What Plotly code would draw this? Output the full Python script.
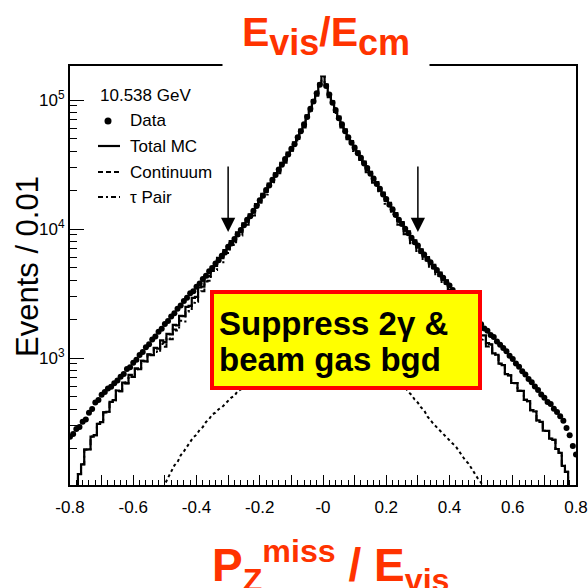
import plotly.graph_objects as go

# ---- histogram contents (bin width 0.01, centres -0.80 ... 0.80) ----
bin_centers = [round(-0.80 + 0.01 * i, 2) for i in range(161)]

data_counts = [
    245, 258, 281, 292, 321, 334, 376, 402, 451, 472,
    519, 544, 580, 598, 638, 669, 716, 752, 820, 846,
    918, 970, 1055, 1113, 1210, 1279, 1391, 1468, 1597, 1686,
    1833, 1938, 2102, 2226, 2413, 2556, 2770, 2934, 3180, 3295,
    3567, 3781, 4096, 4342, 4701, 4985, 5398, 5725, 6198, 6574,
    7280, 7725, 8360, 9075, 9820, 10670, 11810, 12530, 13870, 15070,
    16680, 18110, 20050, 21770, 24110, 26170, 28980, 31470, 34840, 37830,
    41900, 45480, 51540, 57250, 64890, 73760, 85530, 97230, 112700, 131100,
    158500,
    128200, 110100, 95020, 83590, 72080, 64890, 57250, 51540, 46540, 42870,
    38700, 35660, 32200, 29660, 26790, 24670, 22280, 20520, 18530, 17060,
    15410, 14200, 12820, 11810, 10910, 10050, 9287, 8553, 7903, 7450,
    6727, 6341, 5859, 5522, 5103, 4810, 4445, 4190, 3871, 3649,
    3371, 3178, 2936, 2768, 2557, 2411, 2228, 2099, 1940, 1829,
    1690, 1630, 1506, 1452, 1342, 1265, 1196, 1128, 1042, 982,
    907, 855, 790, 745, 688, 649, 600, 565, 522, 492,
    455, 439, 405, 382, 353, 326, 287, 252, 208, 179,
]

total_mc = [
    68, 93, 101, 126, 150, 195, 196, 246, 252, 309,
    318, 379, 383, 457, 471, 560, 553, 645, 636, 739,
    714, 828, 818, 951, 940, 1066, 1054, 1196, 1183, 1372,
    1329, 1540, 1526, 1808, 1793, 2124, 2108, 2494, 2534, 2929,
    2978, 3521, 3580, 4232, 4305, 5085, 5177, 5970, 5948, 6850,
    6990, 8040, 8030, 9440, 9480, 11050, 11400, 12970, 13390, 15590,
    16110, 18740, 19360, 22520, 23290, 27060, 28000, 32510, 33680, 39060,
    40520, 46920, 49840, 59030, 62780, 75920, 82870, 99830, 109600, 133900,
    155600,
    131400, 107000, 97600, 81000, 74300, 62800, 59100, 49800, 48100, 41400,
    40000, 34400, 33300, 28600, 27700, 23800, 23050, 19800, 19180, 16480,
    15950, 13710, 13270, 11400, 11290, 9700, 9610, 8260, 8180, 7190,
    6960, 6120, 6060, 5330, 5280, 4640, 4600, 4040, 4000, 3360,
    3260, 2860, 2780, 2430, 2370, 2070, 2020, 1760, 1720, 1500,
    1497, 1306, 1275, 1086, 1060, 903, 882, 751, 734, 640,
    639, 557, 556, 474, 463, 394, 385, 328, 320, 273,
    272, 237, 232, 197, 184, 146, 131, 97, 82, 61,
]

continuum = [
    0, 0, 0, 0, 0, 0, 0, 0, 0, 0,
    0, 0, 0, 0, 0, 0, 0, 0, 0, 0,
    0, 0, 0, 0, 0, 0, 0, 0, 71, 89,
    105, 118, 130, 147, 156, 176, 189, 206, 221, 243,
    254, 278, 292, 319, 336, 366, 377, 401, 414, 440,
    464, 494, 509, 554, 571, 607, 627, 665, 688, 729,
    754, 799, 827, 877, 906, 961, 994, 1054, 1089, 1156,
    1194, 1268, 1310, 1389, 1436, 1524, 1575, 1671, 1727, 1832,
    1905,
    1808, 1750, 1650, 1596, 1504, 1455, 1371, 1327, 1251, 1210,
    1141, 1103, 1040, 1007, 949, 918, 866, 838, 789, 764,
    719, 697, 657, 635, 613, 593, 546, 517, 476, 450,
    414, 392, 353, 326, 307, 290, 273, 259, 243, 231,
    217, 206, 190, 175, 161, 152, 137, 127, 116, 108,
    92, 76, 0, 0, 0, 0, 0, 0, 0, 0,
    0, 0, 0, 0, 0, 0, 0, 0, 0, 0,
    0, 0, 0, 0, 0, 0, 0, 0, 0, 0,
]

tau_pair = [
    68, 93, 101, 126, 150, 195, 196, 246, 252, 309,
    318, 379, 383, 457, 471, 560, 553, 645, 636, 739,
    714, 828, 818, 951, 940, 1066, 1054, 1196, 1112, 1283,
    1224, 1422, 1396, 1661, 1637, 1948, 1919, 2288, 2313, 2686,
    2724, 3243, 3288, 3913, 3969, 4719, 4800, 5569, 5534, 6410,
    6526, 7546, 7521, 8886, 8909, 10443, 10773, 12305, 12702, 14861,
    15356, 17941, 18533, 21643, 22384, 26099, 27006, 31456, 32591, 37904,
    39326, 45652, 48530, 57641, 61344, 74396, 81295, 98159, 107873, 132068,
    153695,
    129592, 105250, 95950, 79404, 72796, 61345, 57729, 48473, 46849, 40190,
    38859, 33297, 32260, 27593, 26751, 22882, 22184, 18962, 18391, 15716,
    15231, 13013, 12613, 10765, 10677, 9107, 9064, 7743, 7704, 6740,
    6546, 5728, 5707, 5004, 4973, 4350, 4327, 3781, 3757, 3129,
    3043, 2654, 2590, 2255, 2209, 1918, 1883, 1633, 1604, 1392,
    1405, 1230, 1275, 1086, 1060, 903, 882, 751, 734, 640,
    639, 557, 556, 474, 463, 394, 385, 328, 320, 273,
    272, 237, 232, 197, 184, 146, 131, 97, 82, 61,
]

for series in (data_counts, total_mc, continuum, tau_pair):
    assert len(series) == len(bin_centers)

# ---- axis ticks ----
x_tick_vals = [-0.8, -0.7, -0.6, -0.5, -0.4, -0.3, -0.2, -0.1, 0.0,
               0.1, 0.2, 0.3, 0.4, 0.5, 0.6, 0.7, 0.8]
x_tick_text = ["-0.8", "", "-0.6", "", "-0.4", "", "-0.2", "", "-0",
               "", "0.2", "", "0.4", "", "0.6", "", "0.8"]
y_tick_vals = [1e3, 1e4, 1e5]
y_tick_text = ["10<sup>3</sup>", "10<sup>4</sup>", "10<sup>5</sup>"]
y_minor_vals = [200, 300, 400, 500, 600, 700, 800, 900,
                2000, 3000, 4000, 5000, 6000, 7000, 8000, 9000,
                20000, 30000, 40000, 50000, 60000, 70000, 80000, 90000]
y_log_range = [2.0155, 5.2636]

cut_positions = [-0.3, 0.3]
energy_label = "10.538 GeV"
legend_labels = ["Data", "Total MC", "Continuum", "τ Pair"]

# ---- page geometry (pixels) ----
W = H = 588
ML, MR, MT, MB = 70, 12, 66, 103
PW, PH = W - ML - MR, H - MT - MB


def fx(px):
    return (px - ML) / PW


def fy(py):
    return (H - MB - py) / PH


SANS = "Liberation Sans, Arial, Helvetica, sans-serif"
RED_TEXT = "#ff3300"

fig = go.Figure()

fig.add_trace(go.Scatter(
    x=bin_centers, y=tau_pair, mode="lines", line_shape="hvh",
    line=dict(color="black", width=2, dash="6px,3px,2px,3px"),
    showlegend=False, hoverinfo="skip"))
fig.add_trace(go.Scatter(
    x=bin_centers, y=continuum, mode="lines",
    line=dict(color="black", width=2, dash="3px,3px"),
    showlegend=False, hoverinfo="skip"))
fig.add_trace(go.Scatter(
    x=bin_centers, y=total_mc, mode="lines", line_shape="hvh",
    line=dict(color="black", width=2.2),
    showlegend=False, hoverinfo="skip"))
fig.add_trace(go.Scatter(
    x=bin_centers, y=data_counts, mode="markers",
    marker=dict(color="black", size=6, symbol="circle"),
    showlegend=False, hoverinfo="skip"))

shapes = []
annotations = []

# legend block
annotations.append(dict(x=fx(98), y=fy(95), xref="paper", yref="paper",
                        text=energy_label, showarrow=False, xanchor="left",
                        yanchor="middle", font=dict(family=SANS, size=17, color="black")))
legend_rows = [121, 146, 172, 197]
for label, row in zip(legend_labels, legend_rows):
    annotations.append(dict(x=fx(128), y=fy(row), xref="paper", yref="paper",
                            text=label, showarrow=False, xanchor="left",
                            yanchor="middle",
                            font=dict(family=SANS, size=17, color="black")))
shapes.append(dict(type="circle", xref="paper", yref="paper",
                   x0=fx(104.5), x1=fx(111.5), y0=fy(legend_rows[0] + 3.5),
                   y1=fy(legend_rows[0] - 3.5), fillcolor="black",
                   line=dict(width=0)))
for row, dash in zip(legend_rows[1:], ["solid", "5px,3px", "5px,3px,2px,3px"]):
    shapes.append(dict(type="line", xref="paper", yref="paper",
                       x0=fx(98), x1=fx(120), y0=fy(row), y1=fy(row),
                       line=dict(color="black", width=2.2, dash=dash)))

# selection cut arrows
for xc in cut_positions:
    annotations.append(dict(x=xc, y=fy(232), xref="x", yref="paper",
                            ax=0, ay=-67, text="", showarrow=True,
                            arrowhead=2, arrowsize=1.9, arrowwidth=1.5,
                            arrowcolor="black", standoff=0))

# highlighted note box
shapes.append(dict(type="rect", xref="paper", yref="paper", layer="above",
                   x0=fx(212), x1=fx(480), y0=fy(388), y1=fy(292),
                   fillcolor="#ffff00", line=dict(color="#ff0000", width=4)))
annotations.append(dict(x=fx(217), y=fy(323), xref="paper", yref="paper",
                        text="<b>Suppress 2γ &amp;</b>", showarrow=False,
                        xanchor="left", yanchor="middle",
                        font=dict(family=SANS, size=33, color="black")))
annotations.append(dict(x=fx(217), y=fy(359), xref="paper", yref="paper",
                        text="<b>beam gas bgd</b>", showarrow=False,
                        xanchor="left", yanchor="middle",
                        font=dict(family=SANS, size=33, color="black")))

# red titles
sub = "<sub><span style='font-size:36px'>{}</span></sub>"
annotations.append(dict(x=fx(325.5), y=fy(36), xref="paper", yref="paper",
                        text="<b>E" + sub.format("vis") + "/E" + sub.format("cm") + "</b>",
                        showarrow=False, xanchor="center", yanchor="middle",
                        width=196, height=68, borderpad=5, bgcolor="white",
                        font=dict(family=SANS, size=41, color=RED_TEXT)))
annotations.append(dict(x=fx(331), y=fy(565), xref="paper", yref="paper",
                        text="<b>P<sub>Z</sub><sup>miss</sup> / E<sub>vis</sub></b>",
                        showarrow=False, xanchor="center", yanchor="middle",
                        font=dict(family=SANS, size=46, color=RED_TEXT)))

# y-axis title
annotations.append(dict(x=fx(27), y=fy(267), xref="paper", yref="paper",
                        text="Events / 0.01", textangle=-90, showarrow=False,
                        xanchor="center", yanchor="middle",
                        font=dict(family=SANS, size=31, color="black")))

fig.update_layout(
    width=W, height=H,
    margin=dict(l=ML, r=MR, t=MT, b=MB, pad=0, autoexpand=False),
    paper_bgcolor="white", plot_bgcolor="white",
    shapes=shapes, annotations=annotations,
    showlegend=False,
)
fig.update_xaxes(
    range=[-0.8, 0.8], showgrid=False, zeroline=False, automargin=False,
    showline=True, mirror=True, linecolor="black", linewidth=2,
    tickmode="array", tickvals=x_tick_vals, ticktext=x_tick_text,
    ticks="inside", ticklen=10, tickwidth=1, tickcolor="black",
    ticklabelstandoff=6,
    tickfont=dict(family=SANS, size=17, color="black"),
    minor=dict(ticks="inside", ticklen=5, tickwidth=1, tickcolor="black",
               tickmode="linear", tick0=0, dtick=0.02),
)
fig.update_yaxes(
    type="log", range=y_log_range, showgrid=False, zeroline=False, automargin=False,
    showline=True, mirror=True, linecolor="black", linewidth=2,
    tickmode="array", tickvals=y_tick_vals, ticktext=y_tick_text,
    ticks="inside", ticklen=14, tickwidth=1, tickcolor="black",
    tickfont=dict(family=SANS, size=17, color="black"),
    minor=dict(ticks="inside", ticklen=7, tickwidth=1, tickcolor="black",
               tickmode="array", tickvals=y_minor_vals),
)

fig.write_html("out.html")
